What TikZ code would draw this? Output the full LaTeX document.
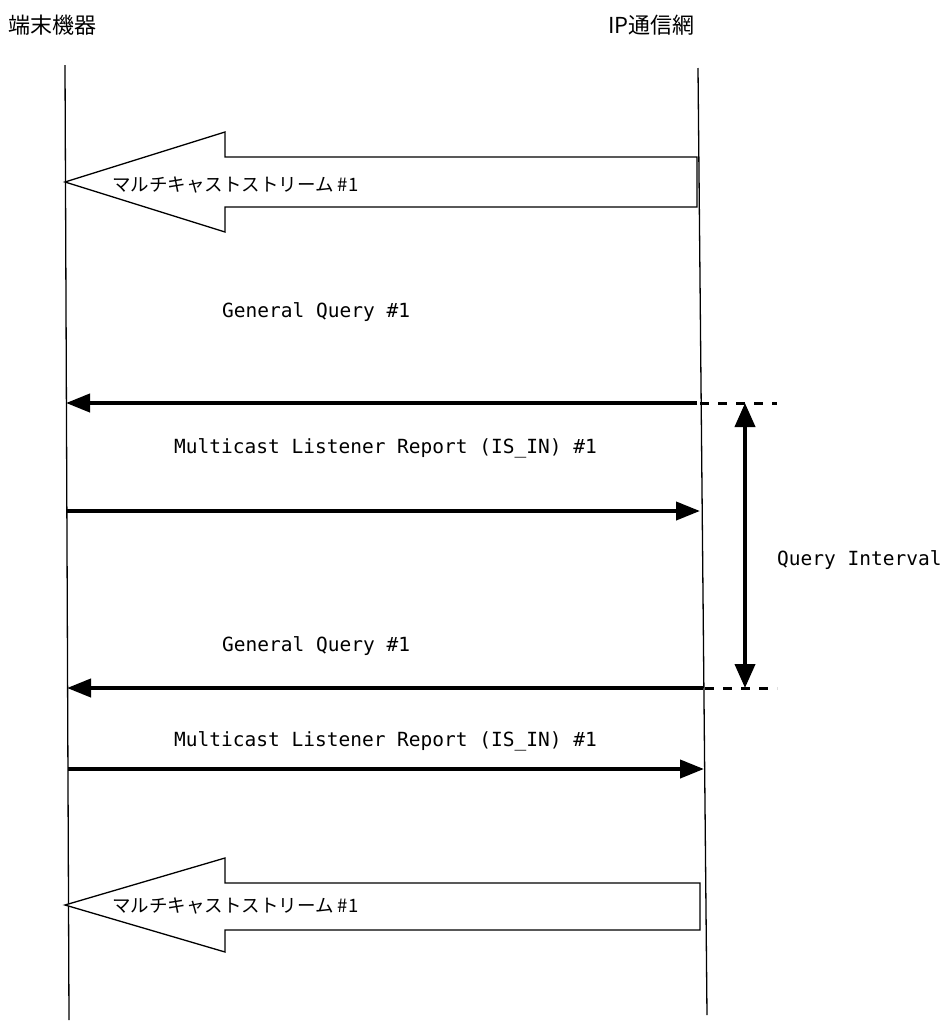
\documentclass[tikz,border=0pt]{standalone}
\usepackage{fontspec}
\newfontfamily\jpfont{Noto Sans CJK JP}
\newfontfamily\monofont{DejaVu Sans Mono}
\usetikzlibrary{arrows.meta}
\begin{document}
\begin{tikzpicture}[x=1pt,y=-1pt,
  lifeline/.style={line width=1.3pt},
  msgarrow/.style={line width=4pt,-{Triangle[length=24pt,width=18pt]}},
  intervalarrow/.style={line width=4pt,{Triangle[length=24pt,width=20pt]}-{Triangle[length=24pt,width=20pt]}},
  guide/.style={line width=3pt,dash pattern=on 9pt off 9pt},
  blockarrow/.style={draw,line width=1.3pt,fill=white},
  titletext/.style={inner sep=0pt,anchor=west,font=\jpfont\fontsize{22}{24}\selectfont},
  streamtext/.style={inner sep=0pt,anchor=west,font=\jpfont\fontsize{18.5}{20}\selectfont},
  msgtext/.style={inner sep=0pt,anchor=west,font=\monofont\fontsize{19.5}{21}\selectfont}]
\useasboundingbox (0,0) rectangle (944,1023);

% titles
\node[titletext] (tterm) at (8,25) {端末機器};
\node[titletext] (tnet) at (608,25) {IP通信網};

% lifelines
\coordinate (ltop) at (65,65);
\coordinate (lbot) at (69,1020);
\coordinate (rtop) at (698,68);
\coordinate (rbot) at (707,1015);
\draw[lifeline] (ltop) -- (lbot);
\draw[lifeline] (rtop) -- (rbot);

% block arrow 1
\draw[blockarrow] (697,157) -- (225,157) -- (225,132) -- (65,182) -- (225,232) -- (225,207) -- (697,207) -- cycle;
\node[streamtext] (s1) at (112,185) {マルチキャストストリーム \#1};

% messages set 1
\node[msgtext] (gq1) at (222,312) {General Query \#1};
\coordinate (a1s) at (697,403);
\coordinate (a1e) at (66,403);
\draw[msgarrow] (a1s) -- (a1e);
\node[msgtext] (mr1) at (174,448) {Multicast Listener Report (IS\_IN) \#1};
\coordinate (a2s) at (66,511);
\coordinate (a2e) at (700,511);
\draw[msgarrow] (a2s) -- (a2e);

% messages set 2
\node[msgtext] (gq2) at (222,646) {General Query \#1};
\coordinate (a3s) at (703,688);
\coordinate (a3e) at (67,688);
\draw[msgarrow] (a3s) -- (a3e);
\node[msgtext] (mr2) at (174,741) {Multicast Listener Report (IS\_IN) \#1};
\coordinate (a4s) at (68,769);
\coordinate (a4e) at (704,769);
\draw[msgarrow] (a4s) -- (a4e);

% query interval
\coordinate (d1s) at (700,403);
\coordinate (d1e) at (777,403);
\coordinate (d2s) at (705,688);
\coordinate (d2e) at (777,688);
\draw[guide] (d1s) -- (d1e);
\draw[guide] (d2s) -- (d2e);
\coordinate (qtop) at (745,403);
\coordinate (qbot) at (745,688);
\draw[intervalarrow] (qtop) -- (qbot);
\node[msgtext] (qi) at (777,560) {Query Interval};

% block arrow 2
\draw[blockarrow] (700,883) -- (225,883) -- (225,858) -- (65,905) -- (225,952) -- (225,930) -- (700,930) -- cycle;
\node[streamtext] (s2) at (112,906) {マルチキャストストリーム \#1};
\end{tikzpicture}
\end{document}
